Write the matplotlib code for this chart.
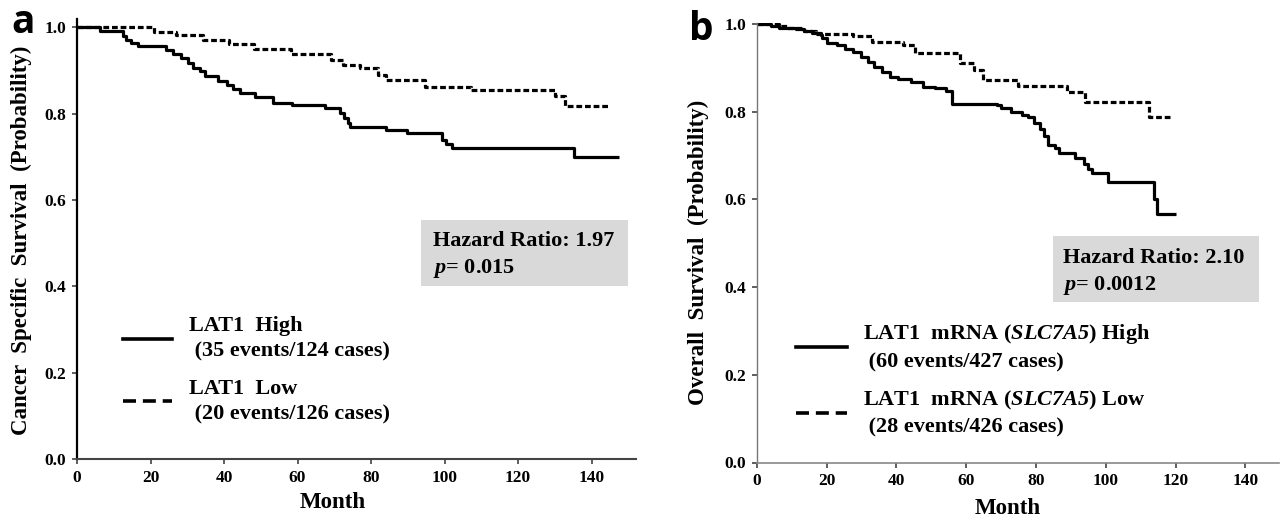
import matplotlib
matplotlib.use('Agg')
import matplotlib.pyplot as plt
from matplotlib.lines import Line2D
from matplotlib.patches import Rectangle

plt.rcParams['font.family'] = ['Liberation Serif', 'DejaVu Serif']
plt.rcParams['font.weight'] = 'bold'
plt.rcParams['mathtext.fontset'] = 'custom'
plt.rcParams['mathtext.it'] = 'Liberation Serif:italic:bold'
plt.rcParams['mathtext.cal'] = 'Liberation Serif:italic:bold'
plt.rcParams['mathtext.rm'] = 'Liberation Serif:bold'

# panel a: cancer specific survival, LAT1 IHC
a_high_t = [0, 6.2, 12.5, 13.3, 14.8, 16.6, 24.3, 26.1, 28.4, 30.2, 31.5, 33.4, 34.7, 38.5, 40.7, 42.5,
            44.3, 48.4, 53.4, 58.4, 67.6, 71.5, 72.6, 73.7, 74.2, 84.2, 89.8, 99.2, 100.3, 102.0, 135.2, 147.4]
a_high_s = [1.0, 0.992, 0.979, 0.970, 0.964, 0.956, 0.947, 0.939, 0.929, 0.918, 0.906, 0.899, 0.887, 0.876, 0.866, 0.858,
            0.849, 0.838, 0.825, 0.820, 0.812, 0.801, 0.789, 0.778, 0.770, 0.763, 0.755, 0.739, 0.730, 0.720, 0.700, 0.700]
a_low_t = [0, 21.0, 27.0, 34.2, 41.4, 48.1, 58.1, 69.2, 72.5, 76.9, 81.9, 84.1, 94.6, 107.1, 130.1, 132.9, 144.5]
a_low_s = [1.0, 0.989, 0.983, 0.970, 0.962, 0.950, 0.938, 0.924, 0.912, 0.905, 0.889, 0.878, 0.861, 0.855, 0.840, 0.818, 0.818]

# panel b: overall survival, LAT1 mRNA
b_high_t = [0, 4.1, 6.5, 8.8, 11.2, 13.5, 15.9, 18.3, 18.8, 20.0, 23.0, 25.3, 27.7, 30.0, 31.8, 33.6, 35.9, 38.3,
            40.6, 44.2, 47.7, 51.2, 54.2, 56.0, 68.9, 70.1, 73.0, 76.0, 77.7, 79.5, 81.3, 82.4, 83.6, 85.4, 86.6,
            91.3, 93.7, 94.8, 96.0, 100.7, 113.7, 114.8, 120.1]
b_high_s = [1.0, 0.995, 0.992, 0.990, 0.988, 0.985, 0.980, 0.976, 0.967, 0.957, 0.952, 0.944, 0.936, 0.925, 0.913, 0.902, 0.890, 0.880,
            0.874, 0.867, 0.857, 0.854, 0.848, 0.817, 0.815, 0.809, 0.800, 0.792, 0.787, 0.775, 0.760, 0.744, 0.725, 0.717, 0.705,
            0.694, 0.680, 0.670, 0.660, 0.640, 0.600, 0.567, 0.567]
b_low_t = [0, 6.5, 8.8, 13.5, 17.1, 27.7, 33.0, 41.8, 45.4, 58.3, 62.4, 64.8, 74.8, 89.0, 94.2, 112.5, 119.0]
b_low_s = [1.0, 0.995, 0.990, 0.985, 0.978, 0.972, 0.960, 0.952, 0.935, 0.910, 0.894, 0.872, 0.859, 0.844, 0.823, 0.788, 0.788]

month_ticks = [0, 20, 40, 60, 80, 100, 120, 140]
prob_ticks = [0.0, 0.2, 0.4, 0.6, 0.8, 1.0]

a_labels = ['LAT1  High\n (35 events/124 cases)', 'LAT1  Low\n (20 events/126 cases)']
b_labels = ['LAT1  mRNA ($\\mathcal{SLC7A5}$) High\n (60 events/427 cases)',
            'LAT1  mRNA ($\\mathcal{SLC7A5}$) Low\n (28 events/426 cases)']
a_stats = ['Hazard Ratio: 1.97', '$p$= 0.015']
b_stats = ['Hazard Ratio: 2.10', '$p$= 0.0012']

W, H = 1282, 518


def fx(x):
    return x / W


def fy(y):
    return 1 - y / H


fig = plt.figure(figsize=(W / 100, H / 100), dpi=100)
ax_a = fig.add_axes([fx(77), fy(459), 558.6 / W, 440.3 / H])
ax_b = fig.add_axes([fx(756.7), fy(462.5), 521.8 / W, 439.8 / H])


def style(ax, xmax, ytop, lcol, llw, bcol, blw):
    ax.set_xlim(0, xmax)
    ax.set_ylim(0, ytop)
    ax.set_xticks(month_ticks)
    ax.set_yticks(prob_ticks)
    ax.set_yticklabels([f'{v:.1f}' for v in prob_ticks])
    ax.spines['top'].set_visible(False)
    ax.spines['right'].set_visible(False)
    ax.spines['left'].set_color(lcol)
    ax.spines['left'].set_linewidth(llw)
    ax.spines['bottom'].set_color(bcol)
    ax.spines['bottom'].set_linewidth(blw)
    ax.tick_params(direction='out', length=3.8, width=1.1, color='#333333', labelsize=12.5, pad=4)
    for lab in ax.get_xticklabels() + ax.get_yticklabels():
        lab.set_fontweight('bold')


def km(ax, t_hi, s_hi, t_lo, s_lo):
    ax.plot(t_hi, s_hi, drawstyle='steps-post', color='black', lw=2.3, solid_capstyle='butt')
    ax.plot(t_lo, s_lo, drawstyle='steps-post', color='black', lw=2.3, dashes=(1.8, 0.9))


style(ax_a, 152, 1.02, 'black', 1.6, '#444444', 1.5)
style(ax_b, 149.5, 1.003, '#777777', 1.0, '#888888', 1.2)
km(ax_a, a_high_t, a_high_s, a_low_t, a_low_s)
km(ax_b, b_high_t, b_high_s, b_low_t, b_low_s)

handles = [Line2D([], [], color='black', lw=2.6),
           Line2D([], [], color='black', lw=2.6, dashes=(3.6, 1.9))]
leg_a = ax_a.legend(handles, a_labels, loc='upper left', bbox_to_anchor=(0.083, 0.325), frameon=False,
                    fontsize=16, handlelength=2.2, handletextpad=0.75, labelspacing=0.75,
                    borderpad=0, borderaxespad=0)
leg_b = ax_b.legend(handles, b_labels, loc='upper left', bbox_to_anchor=(0.0746, 0.319), frameon=False,
                    fontsize=16, handlelength=2.3, handletextpad=0.73, labelspacing=0.75,
                    borderpad=0, borderaxespad=0)
for leg in (leg_a, leg_b):
    for t in leg.get_texts():
        t.set_linespacing(1.4)

# hazard ratio boxes
fig.patches.append(Rectangle((fx(421), fy(286)), 207 / W, 66 / H, transform=fig.transFigure,
                             facecolor='#d9d9d9', edgecolor='none', zorder=0))
fig.patches.append(Rectangle((fx(1052.7), fy(302)), 206.3 / W, 66 / H, transform=fig.transFigure,
                             facecolor='#d9d9d9', edgecolor='none', zorder=0))
fig.text(fx(433), fy(245.7), a_stats[0], fontsize=16, va='baseline')
fig.text(fx(433), fy(272.7), a_stats[1], fontsize=16, va='baseline')
fig.text(fx(1063), fy(263.3), b_stats[0], fontsize=16, va='baseline')
fig.text(fx(1063), fy(290), b_stats[1], fontsize=16, va='baseline')

# axis titles
fig.text(fx(333), fy(508), 'Month', ha='center', va='baseline', fontsize=16.5)
fig.text(fx(1008), fy(514), 'Month', ha='center', va='baseline', fontsize=16.5)
fig.text(fx(21), fy(240), 'Cancer  Specific  Survival  (Probability)', rotation=90,
         ha='center', va='center', fontsize=16.5)
fig.text(fx(698), fy(252), 'Overall  Survival  (Probability)', rotation=90,
         ha='center', va='center', fontsize=16.5)

# panel letters
fig.text(fx(11), fy(33), 'a', family=['Open Sans', 'DejaVu Sans'], fontweight='bold', fontsize=28, va='baseline')
fig.text(fx(689), fy(40), 'b', family=['Open Sans', 'DejaVu Sans'], fontweight='bold', fontsize=28, va='baseline')

fig.savefig('out.png', dpi=100)
